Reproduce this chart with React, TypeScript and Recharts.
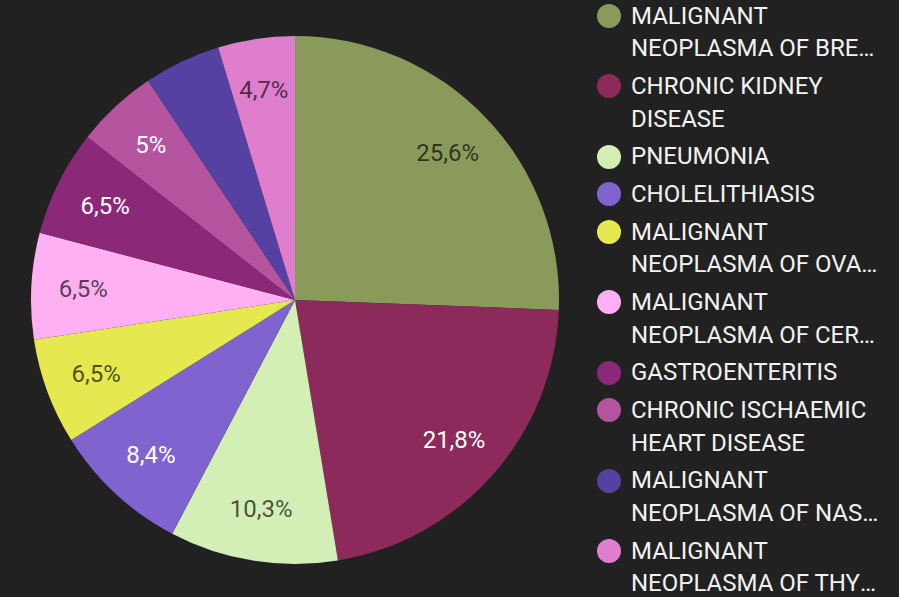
import React, { useMemo } from "react";
import { PieChart, Pie, Cell } from "recharts";

const categories = [
  "MALIGNANT NEOPLASMA OF BREAST",
  "CHRONIC KIDNEY DISEASE",
  "PNEUMONIA",
  "CHOLELITHIASIS",
  "MALIGNANT NEOPLASMA OF OVARY",
  "MALIGNANT NEOPLASMA OF CERVIX UTERI",
  "GASTROENTERITIS",
  "CHRONIC ISCHAEMIC HEART DISEASE",
  "MALIGNANT NEOPLASMA OF NASOPHARYNX",
  "MALIGNANT NEOPLASMA OF THYROID GLAND",
];

const values = [25.6, 21.8, 10.3, 8.4, 6.5, 6.5, 6.5, 5, 4.7, 4.7];

const colors = [
  "#8a9a5b",
  "#8b2a5b",
  "#d4efb5",
  "#7f63cf",
  "#e6e84f",
  "#ffb0f3",
  "#8b2878",
  "#b5549e",
  "#5441a2",
  "#de7ecd",
];

const hiddenLabelIndices = [8];

const data = categories.map((name, i) => ({ name, value: values[i], color: colors[i] }));

const FONT = "Roboto, 'Noto Sans', sans-serif";
const RADIAN = Math.PI / 180;
const LEGEND_TEXT_W = 251;
const LINE_H = 32.4;
const FONT_SIZE = 24;

function isLight(hex: string) {
  const r = parseInt(hex.slice(1, 3), 16);
  const g = parseInt(hex.slice(3, 5), 16);
  const b = parseInt(hex.slice(5, 7), 16);
  const lum = 0.299 * r + 0.587 * g + 0.114 * b;
  return lum > 140;
}

function fmt(v: number) {
  return String(v).replace(".", ",") + "%";
}

const renderLabel = (props: any) => {
  const { cx, cy, midAngle, index, value } = props;
  if (hiddenLabelIndices.includes(index)) return null;
  const r = 212;
  const x = cx + r * Math.cos(-midAngle * RADIAN);
  const y = cy + r * Math.sin(-midAngle * RADIAN);
  const light = isLight(colors[index]);
  return (
    <text
      x={x}
      y={y}
      textAnchor="middle"
      dominantBaseline="central"
      fontFamily={FONT}
      fontSize={FONT_SIZE}
      fill={light ? "rgba(0,0,0,0.68)" : "#ffffff"}
    >
      {fmt(value)}
    </text>
  );
};

function splitLines(name: string, ctx: CanvasRenderingContext2D | null): [string, string] {
  const words = name.split(" ");
  if (!ctx) return [name, ""];
  let line1 = words[0];
  let i = 1;
  while (i < words.length) {
    const trial = line1 + " " + words[i];
    if (ctx.measureText(trial).width <= LEGEND_TEXT_W) {
      line1 = trial;
      i++;
    } else break;
  }
  return [line1, words.slice(i).join(" ")];
}

function Legend() {
  const lines = useMemo(() => {
    let ctx: CanvasRenderingContext2D | null = null;
    try {
      const c = document.createElement("canvas");
      ctx = c.getContext("2d");
      if (ctx) ctx.font = `${FONT_SIZE}px Roboto`;
    } catch (e) {
      ctx = null;
    }
    return categories.map((n) => splitLines(n, ctx));
  }, []);
  return (
    <div style={{ position: "absolute", left: 597, top: 0, fontFamily: FONT, fontSize: FONT_SIZE, color: "#f2f2f2" }}>
      {categories.map((name, i) => (
        <div key={name} style={{ display: "flex", flexDirection: "row", marginBottom: 5.4 }}>
          <div
            style={{
              width: 24,
              height: 24,
              borderRadius: 12,
              background: colors[i],
              marginTop: (LINE_H - 24) / 2,
              flex: "0 0 auto",
            }}
          />
          <div style={{ marginLeft: 10, width: LEGEND_TEXT_W, lineHeight: `${LINE_H}px` }}>
            <div style={{ whiteSpace: "nowrap" }}>{lines[i][0]}</div>
            {lines[i][1] ? (
              <div style={{ whiteSpace: "nowrap", overflow: "hidden", textOverflow: "ellipsis" }}>{lines[i][1]}</div>
            ) : null}
          </div>
        </div>
      ))}
    </div>
  );
}

export default function App() {
  return (
    <div style={{ position: "fixed", left: 0, top: 0, width: 899, height: 597, background: "#212121", overflow: "hidden" }}>
      <div style={{ position: "absolute", left: 0, top: 0 }}>
        <PieChart width={590} height={597} margin={{ top: 0, right: 0, bottom: 0, left: 0 }}>
          <Pie
            data={data}
            dataKey="value"
            nameKey="name"
            cx={295}
            cy={300}
            outerRadius={264}
            startAngle={90}
            endAngle={-270}
            stroke="none"
            label={renderLabel}
            labelLine={false}
            isAnimationActive={false}
          >
            {data.map((d) => (
              <Cell key={d.name} fill={d.color} />
            ))}
          </Pie>
        </PieChart>
      </div>
      <Legend />
    </div>
  );
}
